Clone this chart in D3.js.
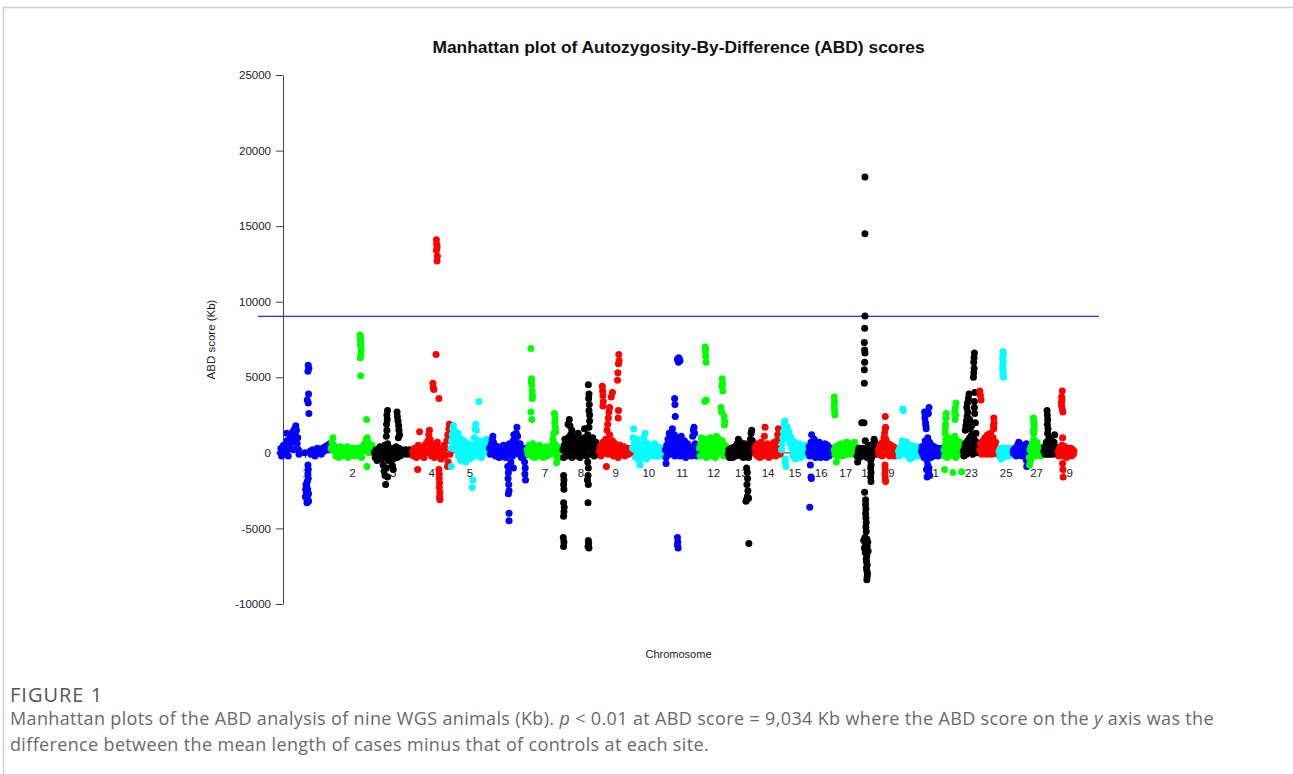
<!DOCTYPE html>
<html>
<head>
<meta charset="utf-8">
<script src="https://cdn.jsdelivr.net/npm/d3@7"></script>
<style>
  body { margin: 0; background: #fff; }
  svg { display: block; }
</style>
</head>
<body>
<script>
// chromosome names and lengths (Mb)
const chromosomes = d3.range(1, 30).map(String);
const chrLengths = [158,137,121,121,121,119,113,114,105,104,107,91,84,84,85,81,73,66,64,72,71,61,52,62,43,52,45,46,51];
// chromosome labels R kept on the axis
const shownLabels = ["1","2","3","4","5","6","7","8","9","10","11","12","13","14","15","16","17","18","19","21","23","25","27","29"];
const yTicks = [-10000, -5000, 0, 5000, 10000, 15000, 20000, 25000];
const threshold = 9034;

// [position in chromosome (Mb), ABD score (Kb)]
const chr1 = [[2,0],[3,300],[5,-200],[8,200],[11,500],[12,-100],[15,100],[18,400],[21,1300],[22,800],[24,200],[26,-200],[28,600],[31,900],[33,300],[35,1100],[38,700],[40,1400],[42,200],[44,1000],[46,1600],[48,1200],[50,1800],[52,1500],[54,600],[56,1000],[58,200],[60,-100],
  [89,5800],[91,5600],[88,5400],[90,3900],[86,3500],[89,3300],[91,2600],
  [88,-800],[89,-1100],[88,-1400],[89,-1700],[86,-1900],[84,-2200],[87,-2400],[83,-2600],[86,-2800],[84,-3000],[88,-3100],[85,-3300],[80,-2900],[81,-2400],[82,-2100],[90,-2700],[90,-3200],
  [78,0],[95,100],[98,-100],[102,200],[106,0],[110,-200],[114,100],[118,300],[122,0],[126,200],[130,-100],[134,300],[138,100],[142,400],[146,200],[150,500],[154,300],[157,600]];
const chr2 = [[3,300],[6,700],[9,1000],[12,500],[15,100],[18,-200],[21,300],[24,0],[27,-300],[30,200],[33,400],[36,-100],[39,100],[42,300],[45,-200],[48,200],[51,0],[54,400],[57,-300],[60,100],[63,300],[66,-100],[69,200],[72,0],[75,300],[78,-200],[81,100],[84,200],[87,-100],[90,300],[93,0],[96,200],[99,-300],[102,400],[105,100],[108,600],[111,300],[114,900],[117,200],[120,700],[123,0],[126,400],[129,200],[132,500],[135,100],
  [94,7800],[96,7700],[95,7500],[97,7300],[96,7100],[98,6800],[97,6500],[95,6300],[96,5100],[115,2200],[117,1000],[116,-900]];
const chr3 = [[2,0],[5,-300],[8,200],[11,-500],[14,100],[17,-200],[20,400],[23,0],[26,-400],[29,300],[32,-100],[35,500],[38,-300],[41,200],[44,600],[47,-500],[50,100],[53,-200],[56,300],[59,0],[62,-400],[65,200],[68,-100],[71,400],[74,-300],[77,100],[80,300],[83,-200],[86,0],[89,200],[92,-100],[95,100],[98,0],[101,200],[104,-100],[107,100],[110,0],[113,200],[116,-100],[119,100],
  [30,-800],[33,-1200],[36,-1500],[40,-1000],[44,-1600],[38,-2100],[58,-800],[62,-1100],[60,-900],
  [40,1100],[42,1500],[41,1900],[43,2200],[42,2500],[44,2800],
  [74,2700],[75,2400],[77,2100],[79,1800],[80,1500],[82,1200],[78,1000]];
const chr4 = [[2,100],[5,-200],[8,300],[11,0],[14,-300],[17,200],[20,500],[23,-100],[24,1400],[26,300],[29,-200],[32,100],[35,400],[38,-300],[41,200],[44,600],[47,0],[50,800],[53,1200],[55,1500],[57,900],[60,300],[62,-200],[65,600],[68,100],[71,-300],[74,400],[77,0],[80,700],[83,-200],[86,300],[89,100],[92,-400],[95,200],[98,0],[101,500],[104,-200],[107,300],[110,800],[113,1200],[116,1600],[118,1900],[120,-100],
  [77,14100],[78,13800],[79,13600],[77,13400],[80,13000],[79,12700],[76,6500],[66,4600],[67,4300],[69,4200],[85,3600],
  [18,-1100],[85,-1100],[86,-1400],[86,-1700],[87,-2000],[86,-2300],[88,-2600],[87,-2900],[88,-3100],[114,-600],[112,-900]];
const chr5 = [[2,300],[4,800],[6,1200],[8,1600],[10,1800],[12,1100],[14,500],[16,1400],[18,900],[20,200],[22,700],[24,1300],[26,-200],[28,400],[30,1000],[32,-500],[34,200],[36,600],[38,-300],[40,100],[42,800],[44,-100],[46,300],[48,-600],[50,0],[52,400],[54,-200],[56,600],[58,100],[60,-400],[62,300],[64,0],[66,500],[68,-300],[70,200],[72,-100],[74,400],[76,1000],[78,1600],[80,1900],[82,1500],[84,600],[86,200],[88,-200],[90,300],[92,800],[94,0],[96,400],[98,-300],[100,200],[102,600],[104,0],[106,300],[108,800],[110,100],[112,400],[114,900],[116,200],[118,500],
  [90,3400],[3,-900],[71,-1800],[69,-2300]];
const chr6 = [[2,300],[5,-100],[8,600],[11,900],[13,1100],[15,700],[17,200],[19,500],[21,-200],[23,300],[25,0],[27,400],[29,-100],[31,200],[33,-300],[35,300],[37,0],[39,400],[41,-200],[43,200],[45,-100],[47,500],[49,0],[51,300],[53,-300],[55,100],[57,-200],[59,400],[61,0],[63,200],[65,600],[67,-100],[69,300],[71,0],[73,400],[75,-200],[77,800],[79,1200],[81,500],[83,100],[85,900],[87,1300],[89,1700],[91,1100],[93,400],[95,-100],[97,300],[99,600],[101,0],[103,-300],[105,200],[107,100],[109,-200],[111,300],[113,0],[115,200],[117,-100],
  [60,-900],[62,-1300],[61,-1700],[63,-2100],[64,-2500],[62,-2700],[64,-4000],[64,-4500],[78,-1000],[113,-600],[115,-1000],[114,-1400],[116,-1800],[70,-600]];
const chr7 = [[2,200],[5,-100],[8,500],[11,0],[14,300],[17,-200],[20,600],[23,100],[26,-300],[29,400],[32,0],[35,300],[38,-200],[41,500],[44,100],[47,-100],[50,300],[53,-300],[56,200],[59,0],[62,400],[65,-200],[68,100],[71,300],[74,-100],[77,200],[80,500],[83,900],[86,1300],[89,600],[92,200],[95,-200],[98,400],[101,100],[104,-300],[107,300],[110,0],
  [14,6900],[16,4900],[15,4700],[17,4500],[18,4100],[19,3800],[18,3600],[14,2700],[17,2200],[88,2600],[90,2300],[89,2000],[91,1700],[92,1400],
  [95,-650],[97,-400]];
const chr8 = [[2,200],[4,-300],[6,500],[8,900],[10,100],[12,-200],[14,600],[16,300],[18,1000],[20,-100],[22,400],[24,800],[26,1200],[28,200],[30,-300],[32,600],[34,1100],[36,300],[38,-100],[40,500],[42,900],[44,200],[46,-200],[48,400],[50,1300],[52,700],[54,100],[56,-300],[58,500],[60,900],[62,200],[64,-100],[66,400],[68,1000],[70,1600],[72,600],[74,200],[76,-200],[78,800],[80,1200],[82,400],[84,1700],[86,2100],[88,900],[90,300],[92,-100],[94,500],[96,1000],[98,200],[100,-200],[102,400],[104,100],[106,700],[108,300],[110,-100],[112,200],
  [18,1900],[22,2200],[24,1800],[30,1500],[82,4500],[84,3900],[83,3600],[85,3200],[84,2800],[86,2500],
  [4,-1500],[5,-1800],[4,-2100],[5,-2400],[4,-3300],[6,-3600],[5,-3900],[4,-4200],[3,-5600],[5,-5900],[4,-6200],
  [80,-600],[82,-1000],[81,-1500],[79,-1800],[82,-2100],[81,-3300],[82,-5800],[83,-6000],[81,-6200],[84,-6300]];
const chr9 = [[2,100],[5,400],[8,-200],[11,300],[14,700],[17,0],[20,500],[23,900],[26,300],[29,-100],[32,600],[35,1200],[38,400],[41,100],[44,800],[47,-200],[50,300],[53,600],[56,0],[59,400],[62,-300],[65,200],[68,500],[71,-100],[74,300],[77,0],[80,400],[83,-200],[86,200],[89,0],[92,300],[95,-100],[98,200],[101,0],[104,300],
  [12,4400],[13,4100],[14,3800],[15,3400],[14,3100],[27,1500],[29,1900],[31,2300],[33,2700],[35,3000],[40,3700],[44,4000],[60,4800],[61,5300],[63,5900],[65,6100],[64,6500],[62,2300],[63,2800],
  [25,-900]];
const chr10 = [[2,300],[4,1000],[6,1600],[8,600],[10,200],[12,-300],[14,400],[16,900],[18,-200],[20,100],[22,500],[24,-500],[26,-800],[28,200],[30,-100],[32,600],[34,300],[36,-300],[38,1000],[40,700],[42,1300],[44,400],[46,-400],[48,100],[50,600],[52,-100],[54,300],[56,0],[58,500],[60,-200],[62,200],[64,400],[66,-100],[68,300],[70,0],[72,600],[74,200],[76,-200],[78,300],[80,0],[82,400],[84,100],[86,-200],[88,300],[90,0],[92,200],[94,-100],[96,300],[98,100],[100,-200],[102,200]];
const chr11 = [[2,200],[4,-300],[6,500],[8,0],[10,900],[12,300],[14,1300],[16,600],[18,-100],[20,1100],[22,400],[24,1600],[26,800],[28,200],[30,1200],[32,-200],[34,700],[36,400],[38,1000],[40,0],[42,600],[44,300],[46,900],[48,-200],[50,500],[52,1100],[54,200],[56,700],[58,-100],[60,400],[62,800],[64,100],[66,-300],[68,500],[70,200],[72,600],[74,0],[76,300],[78,-100],[80,400],[82,200],[84,-200],[86,300],[88,1100],[90,1500],[92,1700],[94,1300],[96,600],[98,100],[100,-200],[102,300],[104,0],[106,200],
  [31,3600],[32,3200],[33,2400],[40,6200],[42,6100],[44,6300],[43,6000],[46,6200],[48,6100],
  [4,-700],[40,-5600],[41,-5900],[40,-6100],[42,-6300]];
const chr12 = [[2,300],[4,-200],[6,600],[8,1000],[10,300],[12,-100],[14,700],[16,200],[18,500],[20,900],[22,100],[24,-300],[26,400],[28,800],[30,200],[32,-100],[34,500],[36,1000],[38,300],[40,-200],[42,600],[44,200],[46,800],[48,0],[50,400],[52,-300],[54,600],[56,1100],[58,300],[60,-100],[62,500],[64,900],[66,200],[68,600],[70,0],[72,400],[74,800],[76,100],[78,300],[80,-200],[82,500],[84,200],[86,400],[88,0],[90,300],
  [20,7000],[22,6900],[21,6700],[22,6400],[23,6000],[24,3500],[19,3400],[74,4900],[75,4600],[73,4400],[76,4100],[70,3000],[72,2700],[80,2400],[82,2100],[81,1850]];
const chr13 = [[2,-100],[4,200],[6,-300],[8,100],[10,-200],[12,300],[14,0],[16,-300],[18,200],[20,-100],[22,400],[24,100],[26,-200],[28,300],[30,600],[32,200],[34,900],[36,400],[38,0],[40,700],[42,300],[44,-200],[46,500],[48,100],[50,-300],[52,200],[54,600],[56,100],[58,-200],[60,400],[62,0],[64,300],[66,-300],[68,100],[70,500],[72,900],[74,1300],[76,1500],[78,800],[80,300],[82,0],
  [60,-1000],[62,-1300],[63,-1700],[61,-2100],[64,-2500],[62,-2900],[60,-3100],[58,-3200],[66,-3000],[67,-6000]];
const chr14 = [[2,300],[4,-100],[6,500],[8,200],[10,-200],[12,600],[14,100],[16,400],[18,-300],[20,200],[22,700],[24,0],[26,300],[28,-200],[30,500],[32,1100],[34,1700],[36,400],[38,-100],[40,300],[42,600],[44,0],[46,-300],[48,400],[50,100],[52,-200],[54,500],[56,200],[58,-100],[60,300],[62,700],[64,0],[66,400],[68,-200],[70,200],[72,800],[74,1200],[76,1600],[78,900],[80,300],[82,-100],[84,200]];
const chr15 = [[2,200],[4,600],[6,1000],[8,1400],[10,1900],[12,2100],[14,1800],[16,1500],[18,1200],[20,1700],[22,1300],[24,900],[26,1400],[28,1100],[30,600],[32,1000],[34,300],[36,800],[38,-200],[40,500],[42,100],[44,700],[46,-400],[48,300],[50,0],[52,500],[54,-100],[56,300],[58,600],[60,100],[62,-300],[64,400],[66,0],[68,300],[70,-200],[72,200],[74,500],[76,0],[78,300],[80,-100],[82,200],[84,0],
  [14,-600],[16,-900],[13,-400]];
const chr16 = [[2,0],[4,400],[6,-200],[8,200],[10,700],[12,1200],[14,300],[16,-100],[18,500],[20,900],[22,200],[24,-300],[26,400],[28,0],[30,600],[32,-200],[34,300],[36,700],[38,100],[40,-300],[42,400],[44,0],[46,500],[48,200],[50,-200],[52,300],[54,600],[56,0],[58,-300],[60,200],[62,500],[64,100],[66,-200],[68,300],[70,0],[72,200],[74,-100],[76,300],[78,0],[80,100],
  [8,-800],[10,-1600],[11,-1700],[6,-3600]];
const chr17 = [[2,200],[4,-100],[6,400],[8,0],[10,300],[12,-200],[14,100],[16,500],[18,200],[20,-100],[22,300],[24,600],[26,100],[28,-200],[30,400],[32,0],[34,200],[36,500],[38,-100],[40,300],[42,700],[44,200],[46,-100],[48,400],[50,100],[52,600],[54,300],[56,0],[58,200],[60,500],[62,-100],[64,300],[66,700],[68,200],[70,400],
  [2,3700],[3,3400],[2,3100],[3,2800],[4,2500],[9,-600]];
const chr18 = [[1,-200],[3,-600],[5,100],[7,300],[9,-300],[11,0],[13,200],[15,-100],[17,300],[19,0],[21,-200],[23,200],[25,100],[27,-100],[29,300],[31,0],[33,-300],[35,200],[37,500],[39,100],[41,-200],[43,300],[45,0],[47,-300],[49,200],[51,600],[53,300],[55,900],[57,700],[59,200],[61,-100],[63,300],[65,100],
  [26,18250],[26,14500],[26,9050],[25,8250],[24,7300],[25,6800],[26,6600],[25,6000],[24,5500],[24,4600],[16,2000],[23,2000],[27,800],
  [44,-500],[45,-800],[44,-1000],[45,-1300],[44,-1600],[45,-1900],[25,-2600],
  [28,-3100],[28,-3400],[29,-3700],[28,-4000],[29,-4300],[30,-4600],[29,-4900],[30,-5200],[26,-5600],[32,-5700],[22,-5800],[35,-5900],[28,-6000],[33,-6200],[24,-6300],[30,-6400],[36,-6500],[27,-6600],[32,-6800],[30,-7000],[31,-7200],[33,-7400],[31,-7600],[32,-7800],[34,-8000],[33,-8200],[32,-8400]];
const chr19 = [[2,200],[4,-100],[6,400],[8,0],[10,600],[12,200],[14,-200],[16,300],[18,700],[20,1000],[22,1300],[24,1600],[26,900],[28,400],[30,-100],[32,300],[34,600],[36,100],[38,-200],[40,300],[42,500],[44,0],[46,200],[48,-100],[50,400],[52,100],[54,-200],[56,300],[58,0],[60,200],[62,-100],
  [24,2400],[25,1700],
  [23,-800],[24,-1100],[23,-1400],[24,-1700],[25,-1900]];
const chr20 = [[2,100],[4,-200],[6,300],[8,0],[10,200],[12,500],[14,800],[16,400],[18,100],[20,600],[22,300],[24,-100],[26,400],[28,700],[30,200],[32,-200],[34,300],[36,0],[38,-400],[40,200],[42,500],[44,100],[46,-300],[48,200],[50,0],[52,300],[54,-100],[56,200],[58,400],[60,0],[62,-200],[64,300],[66,100],[68,400],[70,0],
  [15,2900],[17,2800]];
const chr21 = [[2,100],[4,400],[6,-100],[8,200],[10,-300],[12,500],[14,800],[16,300],[18,-200],[20,600],[22,1000],[24,400],[26,-100],[28,700],[30,200],[32,-300],[34,500],[36,0],[38,300],[40,-200],[42,400],[44,100],[46,-100],[48,300],[50,0],[52,200],[54,-200],[56,300],[58,100],[60,-100],[62,200],[64,0],[66,300],[68,100],[70,-100],
  [12,2700],[14,2500],[13,2300],[15,2000],[16,1800],[17,1600],[26,3000],[24,2600],
  [20,-500],[22,-800],[18,-1100],[24,-1300],[20,-1600],[28,-1500],[26,-1000]];
const chr22 = [[2,200],[4,-200],[6,500],[8,900],[10,300],[12,-300],[14,600],[16,1000],[18,200],[20,-100],[22,700],[24,400],[26,0],[28,800],[30,300],[32,-200],[34,500],[36,1100],[38,200],[40,-300],[42,400],[44,800],[46,100],[48,500],[50,-100],[52,300],[54,700],[56,200],[58,400],[60,0],
  [6,1600],[7,1900],[8,2300],[9,2600],[6,1300],[36,2700],[38,3000],[40,3300],[39,2500],[37,2200],
  [4,-1100],[30,-1300],[58,-1250]];
const chr23 = [[2,100],[4,-200],[6,300],[8,600],[10,100],[12,-100],[14,400],[16,800],[18,200],[20,500],[22,1000],[24,300],[26,700],[28,1200],[30,400],[32,-100],[34,600],[36,900],[38,200],[40,500],[42,1300],[44,700],[46,0],[48,300],[50,100],
  [8,1500],[10,1800],[12,2100],[14,2400],[16,2700],[13,3000],[15,3300],[18,3600],[20,3900],[22,2200],[24,1600],[26,2000],[28,1800],
  [34,5000],[35,5300],[36,5600],[35,6000],[36,6300],[37,6600],[37,3000],[38,2600],[40,2000],[38,4000],[37,3400]];
const chr24 = [[2,200],[4,600],[6,100],[8,-100],[10,300],[12,800],[14,0],[16,400],[18,1000],[20,200],[22,-100],[24,500],[26,1200],[28,300],[30,900],[32,0],[34,600],[36,1300],[38,200],[40,-100],[42,400],[44,1000],[46,1600],[48,500],[50,100],[52,700],[54,0],[56,300],[58,-100],[60,200],
  [2,4100],[4,3800],[6,3500],[46,2300],[47,2000],[45,1800]];
const chr25 = [[1,100],[3,-200],[5,300],[7,-400],[9,0],[11,200],[13,-300],[15,100],[17,300],[19,-100],[21,200],[23,0],[25,-200],[27,300],[29,100],[31,-200],[33,200],[35,0],[37,300],[39,100],[41,-100],[43,200],
  [13,6700],[14,6500],[12,6300],[14,6100],[13,5900],[12,5600],[14,5400],[13,5200],[15,5000]];
const chr26 = [[2,0],[4,200],[6,-100],[8,300],[10,0],[12,-200],[14,200],[16,500],[18,100],[20,700],[22,300],[24,-100],[26,400],[28,100],[30,-200],[32,200],[34,500],[36,0],[38,300],[40,-100],[42,200],[44,600],[46,100],[48,-200],[50,200],
  [45,-900],[44,-500]];
const chr27 = [[1,-300],[3,200],[5,-500],[7,400],[9,0],[11,600],[13,200],[15,900],[17,300],[19,-200],[21,500],[23,100],[25,700],[27,300],[29,-100],[31,400],[33,0],[35,200],[37,-200],[39,300],[41,0],[43,200],[45,-100],
  [14,2300],[15,2100],[16,1900],[17,1700],[14,1500],[15,1300],[2,-800]];
const chr28 = [[2,100],[4,400],[6,-100],[8,300],[10,700],[12,200],[14,-100],[16,500],[18,1000],[20,300],[22,-100],[24,400],[26,800],[28,200],[30,-100],[32,300],[34,700],[36,1200],[38,400],[40,0],[42,200],[44,-100],[46,200],
  [12,2800],[13,2500],[14,2200],[13,1900],[15,1600],[14,1300]];
const chr29 = [[1,100],[3,-200],[5,300],[7,0],[9,-100],[11,200],[13,500],[15,1000],[17,300],[19,-200],[21,100],[23,400],[25,0],[27,-300],[29,200],[31,0],[33,300],[35,-100],[37,200],[39,0],[41,300],[43,-200],[45,100],[47,200],[49,-100],[51,100],
  [14,4100],[12,3700],[13,3500],[11,3300],[12,3100],[14,2900],[16,2700],
  [15,-700],[16,-1100],[17,-1600]];

const abdByChr = [chr1,chr2,chr3,chr4,chr5,chr6,chr7,chr8,chr9,chr10,chr11,chr12,chr13,chr14,chr15,
  chr16,chr17,chr18,chr19,chr20,chr21,chr22,chr23,chr24,chr25,chr26,chr27,chr28,chr29];

// R's default colour cycle used in the plot
const palette = ["#0000ff", "#00ff00", "#000000", "#ff0000", "#00ffff"];

const W = 1293, H = 774;
const plotLeft = 258, plotRight = 1099;

// cumulative starts
const starts = [];
let acc = 0;
for (let len of chrLengths) { starts.push(acc); acc += len; }
const total = acc;
const centers = chrLengths.map((len, i) => starts[i] + len / 2);

const points = [];
abdByChr.forEach((arr, i) => {
  for (let p of arr) points.push({chr: i, pos: starts[i] + p[0], val: p[1]});
});

const x = d3.scaleLinear().domain([0, total]).range([280, 1074]);
const y = d3.scaleLinear().domain([-10000, 25000]).range([604, 75]);

const svg = d3.select("body").append("svg").attr("width", W).attr("height", H);
svg.append("rect").attr("width", W).attr("height", H).attr("fill", "#fff");

// page frame
svg.append("path")
  .attr("d", `M3.5,${H} V7.5 H${W}`)
  .attr("fill", "none").attr("stroke", "#cfcfcf").attr("stroke-width", 1.5);

const font = "'Liberation Sans', Arial, sans-serif";

// title
svg.append("text")
  .attr("x", (plotLeft + plotRight) / 2).attr("y", 53)
  .attr("text-anchor", "middle")
  .style("font-family", font).style("font-weight", "bold").style("font-size", "17.4px")
  .attr("fill", "#111")
  .text("Manhattan plot of Autozygosity-By-Difference (ABD) scores");

// y axis
const yAxis = svg.append("g")
  .attr("transform", "translate(283,0)")
  .call(d3.axisLeft(y).tickValues(yTicks).tickSize(7).tickSizeOuter(0).tickPadding(5).tickFormat(d => String(d)));
yAxis.select(".domain").attr("stroke", "#444");
yAxis.selectAll(".tick line").attr("stroke", "#444");
yAxis.selectAll("text").style("font-family", font).style("font-size", "11.5px").attr("fill", "#222");

svg.append("text")
  .attr("transform", `translate(215,${(y(25000) + y(-10000)) / 2}) rotate(-90)`)
  .attr("text-anchor", "middle")
  .style("font-family", font).style("font-size", "11.5px").attr("fill", "#222")
  .text("ABD score (Kb)");

// x axis at zero
const xAxis = svg.append("g")
  .attr("transform", `translate(0,${y(0)})`)
  .call(d3.axisBottom(x).tickValues(centers).tickSize(5).tickPadding(11)
    .tickFormat((d, i) => shownLabels.includes(chromosomes[i]) ? chromosomes[i] : ""));
xAxis.select(".domain").remove();
xAxis.selectAll(".tick line").attr("stroke", "#333");
xAxis.selectAll("text").style("font-family", font).style("font-size", "11.5px").attr("fill", "#222");
xAxis.append("line")
  .attr("x1", x(centers[0])).attr("x2", x(centers[centers.length - 1]))
  .attr("stroke", "#333");

svg.append("text")
  .attr("x", (plotLeft + plotRight) / 2).attr("y", 658)
  .attr("text-anchor", "middle")
  .style("font-family", font).style("font-size", "11px").attr("fill", "#222")
  .text("Chromosome");

// significance line
svg.append("line")
  .attr("x1", plotLeft).attr("x2", plotRight)
  .attr("y1", y(threshold)).attr("y2", y(threshold))
  .attr("stroke", "#2a2aff").attr("stroke-width", 1.3);

// points
svg.append("g").selectAll("circle")
  .data(points)
  .join("circle")
  .attr("cx", d => x(d.pos))
  .attr("cy", d => y(d.val))
  .attr("r", 3.5)
  .attr("fill", d => palette[d.chr % palette.length]);

// caption
const capFont = "'Open Sans', 'Noto Sans', sans-serif";
svg.append("text")
  .attr("x", 10).attr("y", 702)
  .style("font-family", capFont).style("font-size", "20px").style("letter-spacing", "1px")
  .attr("fill", "#555")
  .text("FIGURE 1");

const cap1 = svg.append("text")
  .attr("x", 10).attr("y", 725)
  .style("font-family", capFont).style("font-size", "18px").style("letter-spacing", "0.35px")
  .attr("fill", "#6a6a6a");
cap1.append("tspan").text("Manhattan plots of the ABD analysis of nine WGS animals (Kb). ");
cap1.append("tspan").style("font-style", "italic").text("p");
cap1.append("tspan").text(" < 0.01 at ABD score = 9,034 Kb where the ABD score on the ");
cap1.append("tspan").style("font-style", "italic").text("y");
cap1.append("tspan").text(" axis was the");

svg.append("text")
  .attr("x", 10).attr("y", 751)
  .style("font-family", capFont).style("font-size", "18px").style("letter-spacing", "0.35px")
  .attr("fill", "#6a6a6a")
  .text("difference between the mean length of cases minus that of controls at each site.");
</script>
</body>
</html>
